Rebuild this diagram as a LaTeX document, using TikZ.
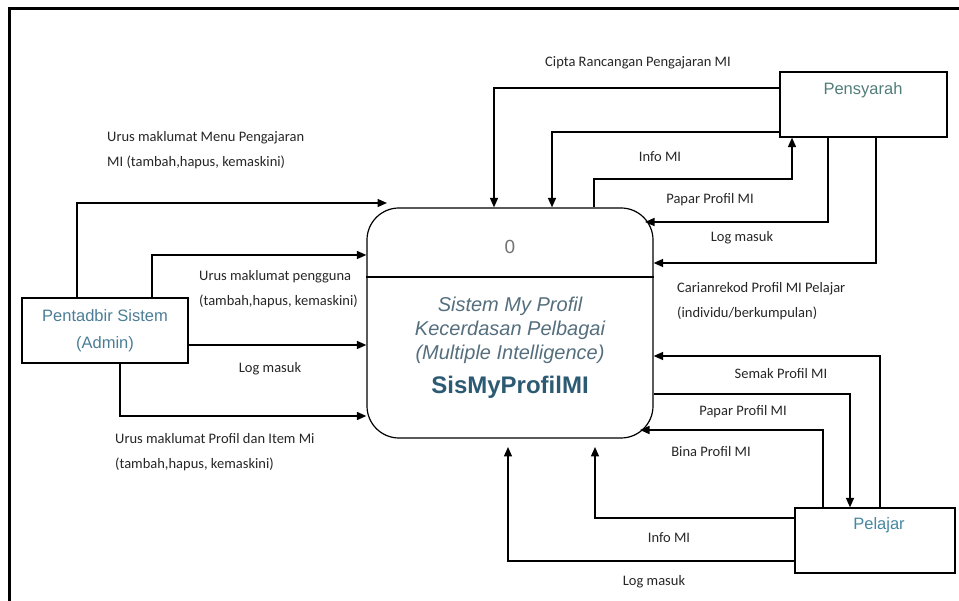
\documentclass[tikz,border=0pt]{standalone}
\usepackage{fontspec}
\setmainfont{Carlito}
\newfontfamily\arialfont{Liberation Sans}
\usetikzlibrary{arrows.meta}
\definecolor{admincol}{RGB}{75,125,150}
\definecolor{penscol}{RGB}{80,125,120}
\definecolor{pelcol}{RGB}{70,135,160}
\definecolor{procital}{RGB}{85,110,125}
\definecolor{procbold}{RGB}{45,90,115}
\begin{document}
\begin{tikzpicture}[x=1pt, y=-1pt, >={Triangle[length=9.5pt,width=8pt]},
  flow/.style={->, line width=1.5pt},
  entity/.style={draw, line width=1.2pt, inner sep=0pt},
  enttext/.style={font=\arialfont\fontsize{16.5}{27}\selectfont, align=center},
  lbl/.style={font=\fontsize{14.5}{25}\selectfont, text=black!85, inner sep=0pt, align=left}]
  \useasboundingbox (0,0) rectangle (959,601);
  % frame of the screenshot
  \draw[line width=3pt] (9,601) -- (9,9) -- (959,9);
  % external entities
  \node[entity, minimum width=166pt, minimum height=65pt, enttext, text=admincol]
    (admin) at (105,330.5) {Pentadbir Sistem\\(Admin)};
  \node[entity, minimum width=167pt, minimum height=65pt] (pens) at (863.5,104.5) {};
  \node[enttext, text=penscol] (pensname) at (863,90) {Pensyarah};
  \node[entity, minimum width=160pt, minimum height=65pt] (pel) at (875,540.5) {};
  \node[enttext, text=pelcol] (pelname) at (879,525) {Pelajar};
  % process 0
  \node[draw, line width=1.2pt, rounded corners=32pt, minimum width=286pt,
    minimum height=230pt] (proc) at (510,323) {};
  \draw[line width=1.2pt] (proc.west |- 0,277) -- (proc.east |- 0,277);
  \node[font=\arialfont\fontsize{19}{24}\selectfont, text=black!55] (procid) at (510,247) {0};
  \node[font=\arialfont\itshape\fontsize{20}{24}\selectfont, text=procital, align=center]
    (procname) at (510,330) {Sistem My Profil\\Kecerdasan Pelbagai\\(Multiple Intelligence)};
  \node[font=\arialfont\bfseries\fontsize{24}{28}\selectfont, text=procbold]
    (procshort) at (510,387) {SisMyProfilMI};
  % flows from the admin
  \draw[flow] (admin.north -| 77,0) |- (387,203);
  \draw[flow] (admin.north -| 152,0) |- (proc.west |- 0,255);
  \draw[flow] (admin.east |- 0,345) -- (proc.west |- 0,345);
  \draw[flow] (admin.south -| 120,0) |- (proc.west |- 0,416);
  \node[lbl, anchor=west] at (107,150.5) {Urus maklumat Menu Pengajaran\\MI (tambah,hapus, kemaskini)};
  \node[lbl, anchor=west] at (199,289.5) {Urus maklumat pengguna\\(tambah,hapus, kemaskini)};
  \node[lbl] at (270,369) {Log masuk};
  \node[lbl, anchor=west] at (115,452.5) {Urus maklumat Profil dan Item Mi\\(tambah,hapus, kemaskini)};
  % flows to and from the lecturer
  \draw[flow] (pens.west |- 0,88) -| (proc.north -| 494,0);
  \draw[flow] (pens.west |- 0,132) -| (proc.north -| 552,0);
  \draw[flow] (proc.north -| 594,0) |- (792,179) -- (pens.south -| 792,0);
  \draw[flow] (pens.south -| 828,0) |- (645,222);
  \draw[flow] (pens.south -| 876,0) |- (proc.east |- 0,263);
  \node[lbl] at (638,63) {Cipta Rancangan Pengajaran MI};
  \node[lbl] at (660,157) {Info MI};
  \node[lbl] at (710,200) {Papar Profil MI};
  \node[lbl] at (742,238) {Log masuk};
  \node[lbl, anchor=west] at (677,301.5) {Carianrekod Profil MI Pelajar\\(individu/berkumpulan)};
  % flows to and from the student
  \draw[flow] (pel.north -| 880,0) |- (proc.east |- 0,356);
  \draw[flow] (proc.east |- 0,394) -| (pel.north -| 850,0);
  \draw[flow] (pel.north -| 823,0) |- (640,430);
  \draw[flow] (pel.west |- 0,518) -| (595,447);
  \draw[flow] (pel.west |- 0,561) -| (508,447);
  \node[lbl] at (781,374) {Semak Profil MI};
  \node[lbl] at (743,412) {Papar Profil MI};
  \node[lbl] at (711,452) {Bina Profil MI};
  \node[lbl] at (669,538) {Info MI};
  \node[lbl] at (654,582) {Log masuk};
\end{tikzpicture}
\end{document}
